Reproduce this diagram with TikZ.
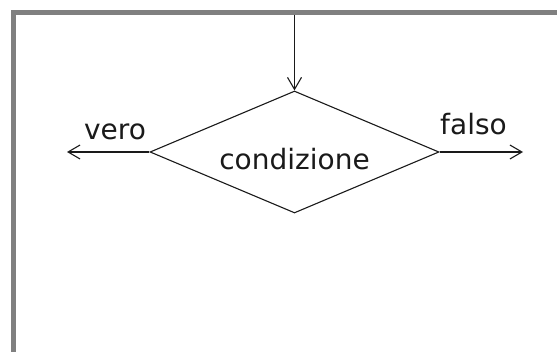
\documentclass[tikz,border=0pt]{standalone}
\usepackage{fontspec}
\setmainfont{DejaVu Sans}
\usetikzlibrary{shapes.geometric,arrows.meta}
\definecolor{framegray}{HTML}{808080}
\definecolor{ink}{HTML}{1A1A1A}
\tikzset{
  decision/.style={shape=diamond, aspect=2.37, draw=ink, line width=1.1pt, inner sep=0pt,
    minimum width=289pt, minimum height=122pt, text=ink,
    font=\fontsize{28}{34}\selectfont, text height=36pt, text depth=0pt},
  flow/.style={draw=ink, line width=1.1pt, -{Straight Barb[length=12pt,width=14pt,line width=1.1pt]}},
  lbl/.style={anchor=base, inner sep=0pt, text=ink, font=\fontsize{28}{34}\selectfont},
}
\begin{document}
\begin{tikzpicture}[x=1pt,y=-1pt]
  \useasboundingbox (0,0) rectangle (557,352);
  \fill[white] (0,0) rectangle (557,352);
  % frame (top and left edges visible)
  \fill[framegray] (11,10) rectangle (557,15);
  \fill[framegray] (11,10) rectangle (16,352);
  % diamond
  \node[decision] (cond) at (294.5,152) {condizione};
  % connectors
  \coordinate (in) at (294.5,15);
  \coordinate (outT) at (67,152);
  \coordinate (outF) at (523,152);
  \draw[flow] (in) -- (cond.north);
  \draw[flow] (cond.west) -- (outT);
  \draw[flow] (cond.east) -- (outF);
  % labels
  \node[lbl] (vero) at (115,140) {vero};
  \node[lbl] (falso) at (473.5,135) {falso};
\end{tikzpicture}
\end{document}
